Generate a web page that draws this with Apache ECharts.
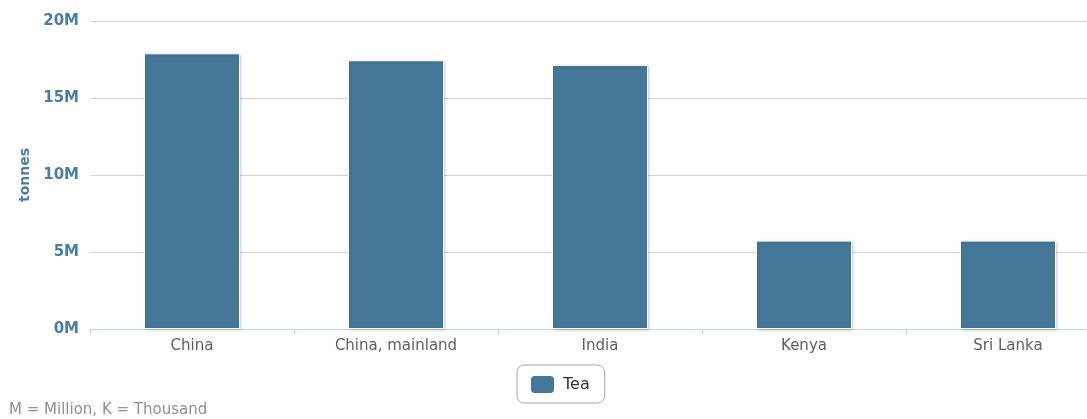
<!DOCTYPE html>
<html>
<head>
<meta charset="utf-8">
<script src="https://cdn.jsdelivr.net/npm/echarts@6/dist/echarts.min.js"></script>
<style>
html,body{margin:0;padding:0;background:#fff;overflow:hidden;width:1087px;height:419px;}
#main{width:1110px;height:419px;}
</style>
</head>
<body>
<div id="main"></div>
<script>
var categories = ["China", "China, mainland", "India", "Kenya", "Sri Lanka"];
var teaValues = [17900000, 17450000, 17150000, 5740000, 5740000];
var yTicks = [0, 5000000, 10000000, 15000000, 20000000];

var FONT = '"DejaVu Sans", Verdana, sans-serif';
var chart = echarts.init(document.getElementById('main'));
chart.setOption({
  animation: false,
  textStyle: {fontFamily: FONT},
  grid: {left: 90, top: 21, right: 0, height: 308, containLabel: false},
  legend: {
    data: ['Tea'],
    left: 517, top: 365,
    padding: [9, 15, 8, 12],
    borderColor: '#a8a8a8', borderWidth: 1, borderRadius: 7,
    itemWidth: 25, itemHeight: 19,
    icon: 'roundRect',
    itemGap: 6,
    textStyle: {color: '#333', fontSize: 16, fontFamily: FONT, padding: [0, 0, 0, 3]}
  },
  graphic: [{
    type: 'text', left: 9, top: 403,
    style: {text: 'M = Million, K = Thousand', fill: '#909090', font: '15px ' + FONT}
  }],
  xAxis: {
    type: 'category',
    data: categories,
    axisLine: {lineStyle: {color: '#c8d3e6', width: 1}},
    axisTick: {show: true, length: 5, lineStyle: {color: '#c8d3e6'}},
    axisLabel: {color: '#606060', fontSize: 15, margin: 10}
  },
  yAxis: {
    type: 'value',
    min: yTicks[0], max: yTicks[yTicks.length - 1], interval: 5000000,
    name: 'tonnes',
    nameLocation: 'middle',
    nameGap: 57,
    nameRotate: 90,
    nameTextStyle: {color: '#4a7ea6', fontSize: 14, fontWeight: 'bold'},
    axisLine: {show: false},
    axisTick: {show: false},
    splitLine: {lineStyle: {color: '#d4d4d4', width: 1}},
    axisLabel: {
      color: '#4a7ea6', fontSize: 15, fontWeight: 'bold', margin: 11,
      formatter: function (v) { return (v / 1000000) + 'M'; }
    }
  },
  series: [{
    name: 'Tea',
    type: 'bar',
    data: teaValues,
    barWidth: 96,
    itemStyle: {
      color: '#457898',
      borderColor: '#ffffff',
      borderWidth: 1,
      shadowColor: 'rgba(0,0,0,0.18)',
      shadowBlur: 3,
      shadowOffsetX: 1,
      shadowOffsetY: 1
    }
  }]
});
</script>
</body>
</html>
